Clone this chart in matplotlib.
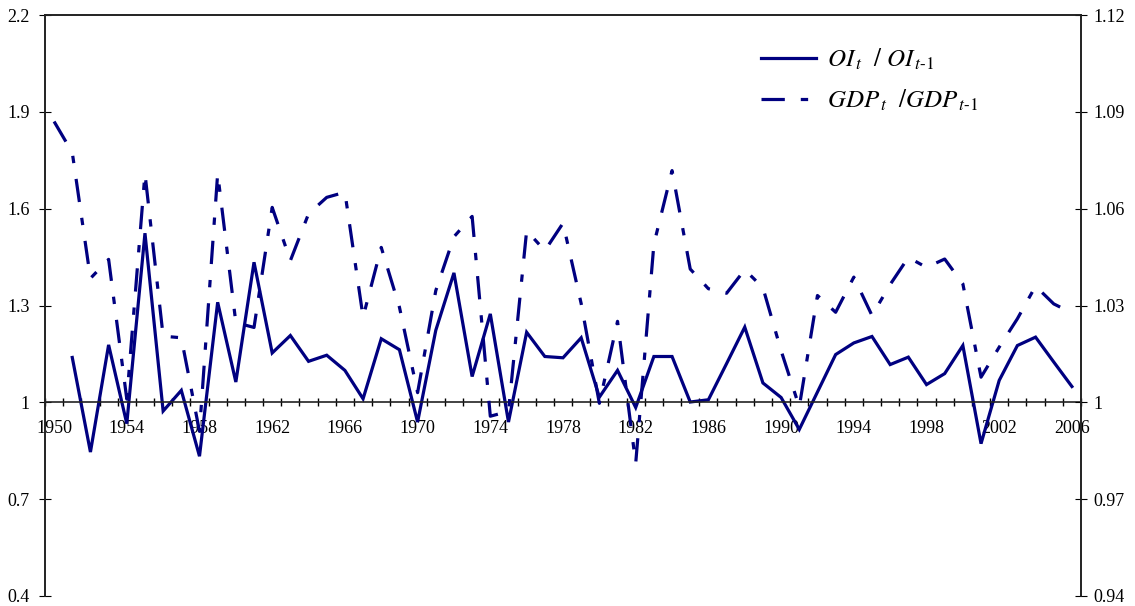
import matplotlib
matplotlib.use('Agg')
import matplotlib.pyplot as plt
import numpy as np

plt.rcParams['font.family'] = ['Liberation Serif', 'DejaVu Serif']
plt.rcParams['mathtext.fontset'] = 'stix'

# years on the category axis
years = list(range(1950, 2007))

# OI_t / OI_t-1 (left axis), starts in 1951
oi_ratio = [np.nan,
            1.139, 0.846, 1.178, 0.934, 1.524, 0.973, 1.037, 0.833, 1.310, 1.063,
            1.434, 1.153, 1.207, 1.127, 1.146, 1.099, 1.011, 1.197, 1.163, 0.939,
            1.223, 1.401, 1.080, 1.274, 0.939, 1.217, 1.142, 1.138, 1.200, 1.016,
            1.099, 0.984, 1.142, 1.142, 1.001, 1.008, 1.120, 1.233, 1.060, 1.015,
            0.916, 1.032, 1.148, 1.184, 1.204, 1.117, 1.140, 1.055, 1.089, 1.176,
            0.872, 1.068, 1.176, 1.202, 1.125, 1.049]

# GDP_t / GDP_t-1 (right axis)
gdp_ratio = [1.0870,
             1.0774, 1.0384, 1.0443, 1.0010, 1.0709, 1.0205, 1.0200, 0.9910, 1.0709, 1.0247,
             1.0232, 1.0604, 1.0439, 1.0584, 1.0635, 1.0651, 1.0264, 1.0480, 1.0295, 1.0030,
             1.0346, 1.0513, 1.0576, 0.9957, 0.9972, 1.0532, 1.0470, 1.0555, 1.0306, 0.9997,
             1.0251, 0.9811, 1.0490, 1.0718, 1.0413, 1.0352, 1.0338, 1.0411, 1.0355, 1.0160,
             0.9986, 1.0331, 1.0279, 1.0388, 1.0269, 1.0365, 1.0449, 1.0418, 1.0444, 1.0367,
             1.0078, 1.0171, 1.0259, 1.0360, 1.0305, 1.0277]

left_ticks = [0.4, 0.7, 1.0, 1.3, 1.6, 1.9, 2.2]
left_labels = ['0.4', '0.7', '1', '1.3', '1.6', '1.9', '2.2']
right_ticks = [0.94, 0.97, 1.0, 1.03, 1.06, 1.09, 1.12]
right_labels = ['0.94', '0.97', '1', '1.03', '1.06', '1.09', '1.12']
label_years = list(range(1950, 2007, 4))

navy = '#000080'

fig = plt.figure(figsize=(11.35, 6.06), dpi=100)
ax = fig.add_axes([45 / 1135, 10 / 606, 1036 / 1135, 581 / 606])
ax2 = ax.twinx()

l1, = ax.plot(years, oi_ratio, color=navy, lw=2.3, solid_joinstyle='miter',
              label=r'$OI_{\,t}\ \ /\ OI_{\,t\text{-}\mathit{1}}$')
l2, = ax2.plot(years, gdp_ratio, color=navy, lw=2.3, dashes=(7.3, 5, 2.3, 5),
               label=r'$GDP_{\,t}\ \ /GDP_{\,t\text{-}\mathit{1}}$')

ax.set_xlim(1949.5, 2006.5)
ax.set_ylim(0.4, 2.2)
ax2.set_ylim(0.94, 1.12)

ax.set_yticks(left_ticks)
ax.set_yticklabels(left_labels)
ax2.set_yticks(right_ticks)
ax2.set_yticklabels(right_labels)

# category axis crossing at 1
ax.spines['bottom'].set_position(('data', 1.0))
ax2.spines['bottom'].set_visible(False)
ax.set_xticks(label_years)
ax.set_xticklabels([str(y) for y in label_years])
ax.set_xticks(np.arange(1949.5, 2007, 1.0), minor=True)
ax.tick_params(axis='x', which='major', length=0, pad=13, labelsize=13)
ax.tick_params(axis='x', which='minor', length=6, direction='inout', width=1)
ax.tick_params(axis='y', length=8, direction='inout', pad=7, labelsize=13)
ax2.tick_params(axis='y', length=8, direction='inout', pad=5, labelsize=13)

for a in (ax, ax2):
    for s in a.spines.values():
        s.set_linewidth(1.2)
        s.set_color('#222222')

leg = ax2.legend(handles=[l1, l2], loc='upper left',
                 bbox_to_anchor=(738 / 1135, 1 - 24 / 606), bbox_transform=fig.transFigure,
                 frameon=False, fontsize=18, handlelength=2.2, handletextpad=0.45,
                 labelspacing=0.65)

fig.savefig('out.png', dpi=100)
